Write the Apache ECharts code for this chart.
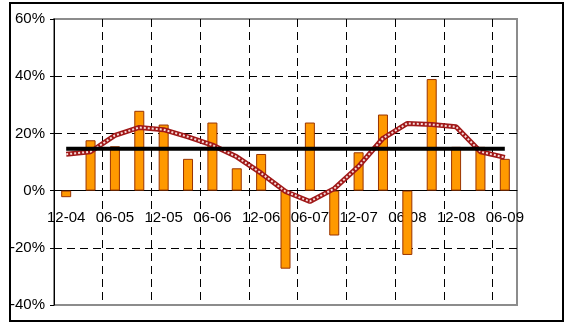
<!DOCTYPE html>
<html>
<head>
<meta charset="utf-8">
<script src="https://cdn.jsdelivr.net/npm/echarts@6/dist/echarts.min.js"></script>
<style>
html,body{margin:0;padding:0;background:#fff;}
#chart{width:565px;height:322px;}
</style>
</head>
<body>
<div id="chart"></div>
<script>
const categories = ["12-04","03-05","06-05","09-05","12-05","03-06","06-06","09-06","12-06","03-07","06-07","09-07","12-07","03-08","06-08","09-08","12-08","03-09","06-09"];
const barValues = [-2.3, 17.6, 15.5, 27.9, 23.1, 11.1, 23.8, 7.8, 12.8, -27.3, 23.8, -15.7, 13.4, 26.6, -22.5, 39.0, 15.3, 15.3, 11.1];
const trendValues = [12.7, 13.6, 19.3, 22.1, 21.3, 18.8, 15.9, 11.8, 6.1, -0.3, -3.8, 0.7, 8.5, 18.3, 23.5, 23.1, 22.3, 13.6, 11.6];
const levelValues = [14.6, 14.6, 14.6, 14.6, 14.6, 14.6, 14.6, 14.6, 14.6, 14.6, 14.6, 14.6, 14.6, 14.6, 14.6, 14.6, 14.6, 14.6, 14.6];
const yMin = -40, yMax = 60, yStep = 20;

const FONT = "'Liberation Sans Narrow', 'Arial Narrow', 'Liberation Sans', Arial, sans-serif";
const GRID = {left: 54, right: 48, top: 19, bottom: 17};
const plotH = 322 - GRID.top - GRID.bottom;
const zeroFromBottom = plotH * (0 - yMin) / (yMax - yMin);

const chart = echarts.init(document.getElementById('chart'), null, {renderer: 'canvas'});
chart.setOption({
  animation: false,
  backgroundColor: '#fff',
  graphic: [{
    type: 'rect', z: 100,
    shape: {x: 10, y: 3, width: 553, height: 318},
    style: {fill: 'none', stroke: '#000', lineWidth: 2}
  }],
  grid: Object.assign({show: true, borderColor: '#8c8c8c', borderWidth: 2, backgroundColor: 'transparent', containLabel: false, outerBoundsMode: 'none'}, GRID),
  xAxis: [{
    type: 'category',
    data: categories,
    boundaryGap: true,
    axisLine: {show: true, onZero: true, lineStyle: {color: '#000', width: 1}},
    axisTick: {show: false},
    axisLabel: {show: false},
    splitLine: {show: true, interval: 1, showMinLine: false, showMaxLine: false, lineStyle: {color: '#000', width: 1, type: [8, 5]}}
  }, {
    type: 'category',
    data: categories,
    position: 'bottom',
    offset: -zeroFromBottom,
    boundaryGap: true,
    axisLine: {show: false, onZero: false},
    axisTick: {show: false},
    splitLine: {show: false},
    axisLabel: {interval: 1, margin: 20, color: '#000', fontSize: 15, fontFamily: FONT}
  }],
  yAxis: {
    type: 'value',
    min: yMin, max: yMax, interval: yStep,
    axisLine: {show: true, lineStyle: {color: '#000', width: 1}},
    axisTick: {show: true, length: 4, lineStyle: {color: '#000'}},
    axisLabel: {formatter: '{value}%', margin: 9, color: '#000', fontSize: 15, fontFamily: FONT},
    splitLine: {show: true, showMinLine: false, showMaxLine: false, lineStyle: {color: '#000', width: 1, type: [8, 5]}}
  },
  series: [
    {
      type: 'bar', data: barValues, barWidth: 10, z: 2,
      itemStyle: {color: '#FF9900', borderColor: '#993300', borderWidth: 1}
    },
    {
      type: 'line', data: trendValues, symbol: 'none', z: 3,
      lineStyle: {color: '#a01818', width: 5}
    },
    {
      type: 'line', data: trendValues, symbol: 'none', z: 4,
      lineStyle: {color: '#f6dada', width: 2, type: [2, 2]}
    },
    {
      type: 'line', data: levelValues, symbol: 'none', z: 5,
      lineStyle: {color: '#000', width: 4}
    }
  ]
});
</script>
</body>
</html>
